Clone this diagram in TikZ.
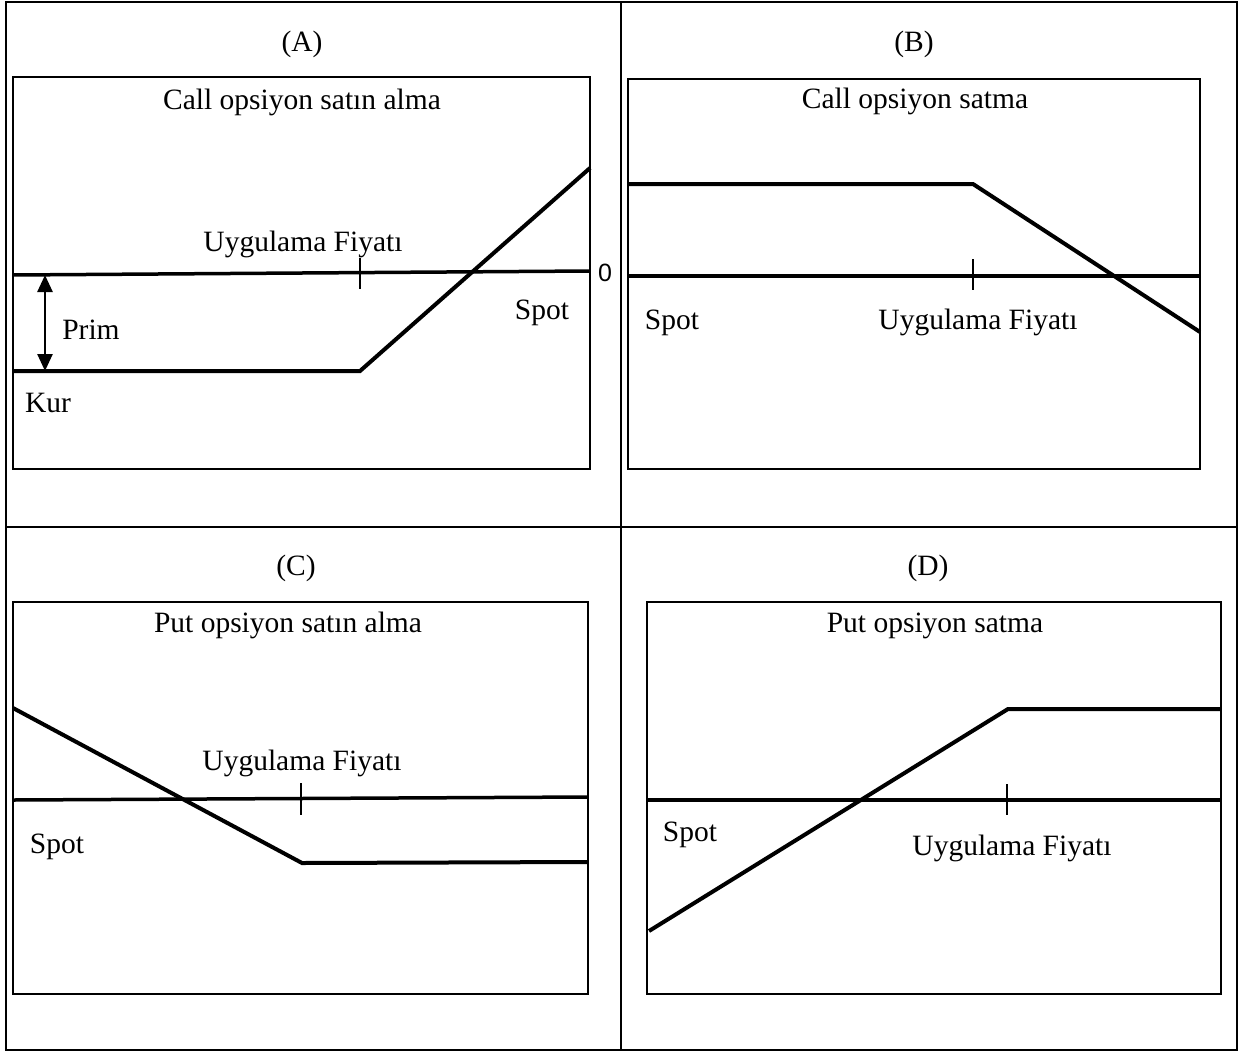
\documentclass[tikz,border=0pt]{standalone}
\usepackage{fontspec}
\setmainfont{Liberation Serif}
\newfontfamily\zerofont{Liberation Sans}
\usetikzlibrary{arrows.meta}
\begin{document}
\begin{tikzpicture}[x=1pt,y=-1pt,
  frame/.style={line width=2pt},
  panel/.style={line width=1.3pt},
  payoff/.style={line width=4pt},
  axis/.style={line width=3.5pt},
  strike/.style={line width=1.4pt},
  lbl/.style={font=\fontsize{29.5}{34}\selectfont, inner sep=0pt, anchor=base},
  primarrow/.style={line width=2.5pt, {Triangle[length=17pt,width=15pt]}-{Triangle[length=17pt,width=15pt]}},
]
\useasboundingbox (0,0) rectangle (1243,1053);
\fill[white] (0,0) rectangle (1243,1053);

% outer table frame
\draw[frame] (6,2) rectangle (1237,1050);
\draw[frame] (621,2) -- (621,1050);
\draw[frame] (6,527) -- (1237,527);

% ---------- (A) Call opsiyon satın alma ----------
\draw[panel] (13,77) rectangle (590,469);
\node[lbl] (labA) at (302,51) {(A)};
\node[lbl] (titA) at (302,109) {Call opsiyon satın alma};
\coordinate (a0l) at (13,275);
\coordinate (a0r) at (590,271);
\draw[axis] (a0l) -- (a0r);
\coordinate (akt) at (360,258);
\coordinate (akb) at (360,289);
\draw[strike] (akt) -- (akb);
\node[lbl] (ufA) at (303,251) {Uygulama Fiyatı};
\coordinate (ap1) at (13,371);
\coordinate (ap2) at (360,371);
\coordinate (ap3) at (590,168);
\draw[payoff] (ap1) -- (ap2) -- (ap3);
\coordinate (prtop) at (45,275);
\coordinate (prbot) at (45,371);
\draw[primarrow] (prtop) -- (prbot);
\node[lbl] (prim) at (91,339) {Prim};
\node[lbl] (kur) at (48,412) {Kur};
\node[lbl] (spotA) at (542,319) {Spot};
\node[font=\zerofont\fontsize{25}{29}\selectfont, inner sep=0pt] (zero) at (605,273) {0};

% ---------- (B) Call opsiyon satma ----------
\draw[panel] (628,79) rectangle (1200,469);
\node[lbl] (labB) at (914,51) {(B)};
\node[lbl] (titB) at (915,108) {Call opsiyon satma};
\coordinate (b0l) at (628,276);
\coordinate (b0r) at (1201,276);
\draw[axis] (b0l) -- (b0r);
\coordinate (bkt) at (973,259);
\coordinate (bkb) at (973,290);
\draw[strike] (bkt) -- (bkb);
\coordinate (bp1) at (628,184);
\coordinate (bp2) at (973,184);
\coordinate (bp3) at (1200,332);
\draw[payoff] (bp1) -- (bp2) -- (bp3);
\node[lbl] (spotB) at (672,329) {Spot};
\node[lbl] (ufB) at (978,329) {Uygulama Fiyatı};

% ---------- (C) Put opsiyon satın alma ----------
\draw[panel] (13,602) rectangle (588,994);
\node[lbl] (labC) at (296,575) {(C)};
\node[lbl] (titC) at (288,632) {Put opsiyon satın alma};
\coordinate (c0l) at (13,800);
\coordinate (c0r) at (588,797);
\draw[axis] (c0l) -- (c0r);
\coordinate (ckt) at (301,783);
\coordinate (ckb) at (301,815);
\draw[strike] (ckt) -- (ckb);
\coordinate (cp1) at (13,708);
\coordinate (cp2) at (302,863);
\coordinate (cp3) at (588,862);
\draw[payoff] (cp1) -- (cp2) -- (cp3);
\node[lbl] (ufC) at (302,770) {Uygulama Fiyatı};
\node[lbl] (spotC) at (57,853) {Spot};

% ---------- (D) Put opsiyon satma ----------
\draw[panel] (647,602) rectangle (1221,994);
\node[lbl] (labD) at (928,575) {(D)};
\node[lbl] (titD) at (935,632) {Put opsiyon satma};
\coordinate (d0l) at (647,800);
\coordinate (d0r) at (1221,800);
\draw[axis] (d0l) -- (d0r);
\coordinate (dkt) at (1007,784);
\coordinate (dkb) at (1007,815);
\draw[strike] (dkt) -- (dkb);
\coordinate (dp1) at (649,931);
\coordinate (dp2) at (1008,709);
\coordinate (dp3) at (1221,709);
\draw[payoff] (dp1) -- (dp2) -- (dp3);
\node[lbl] (spotD) at (690,841) {Spot};
\node[lbl] (ufD) at (1012,855) {Uygulama Fiyatı};
\end{tikzpicture}
\end{document}
